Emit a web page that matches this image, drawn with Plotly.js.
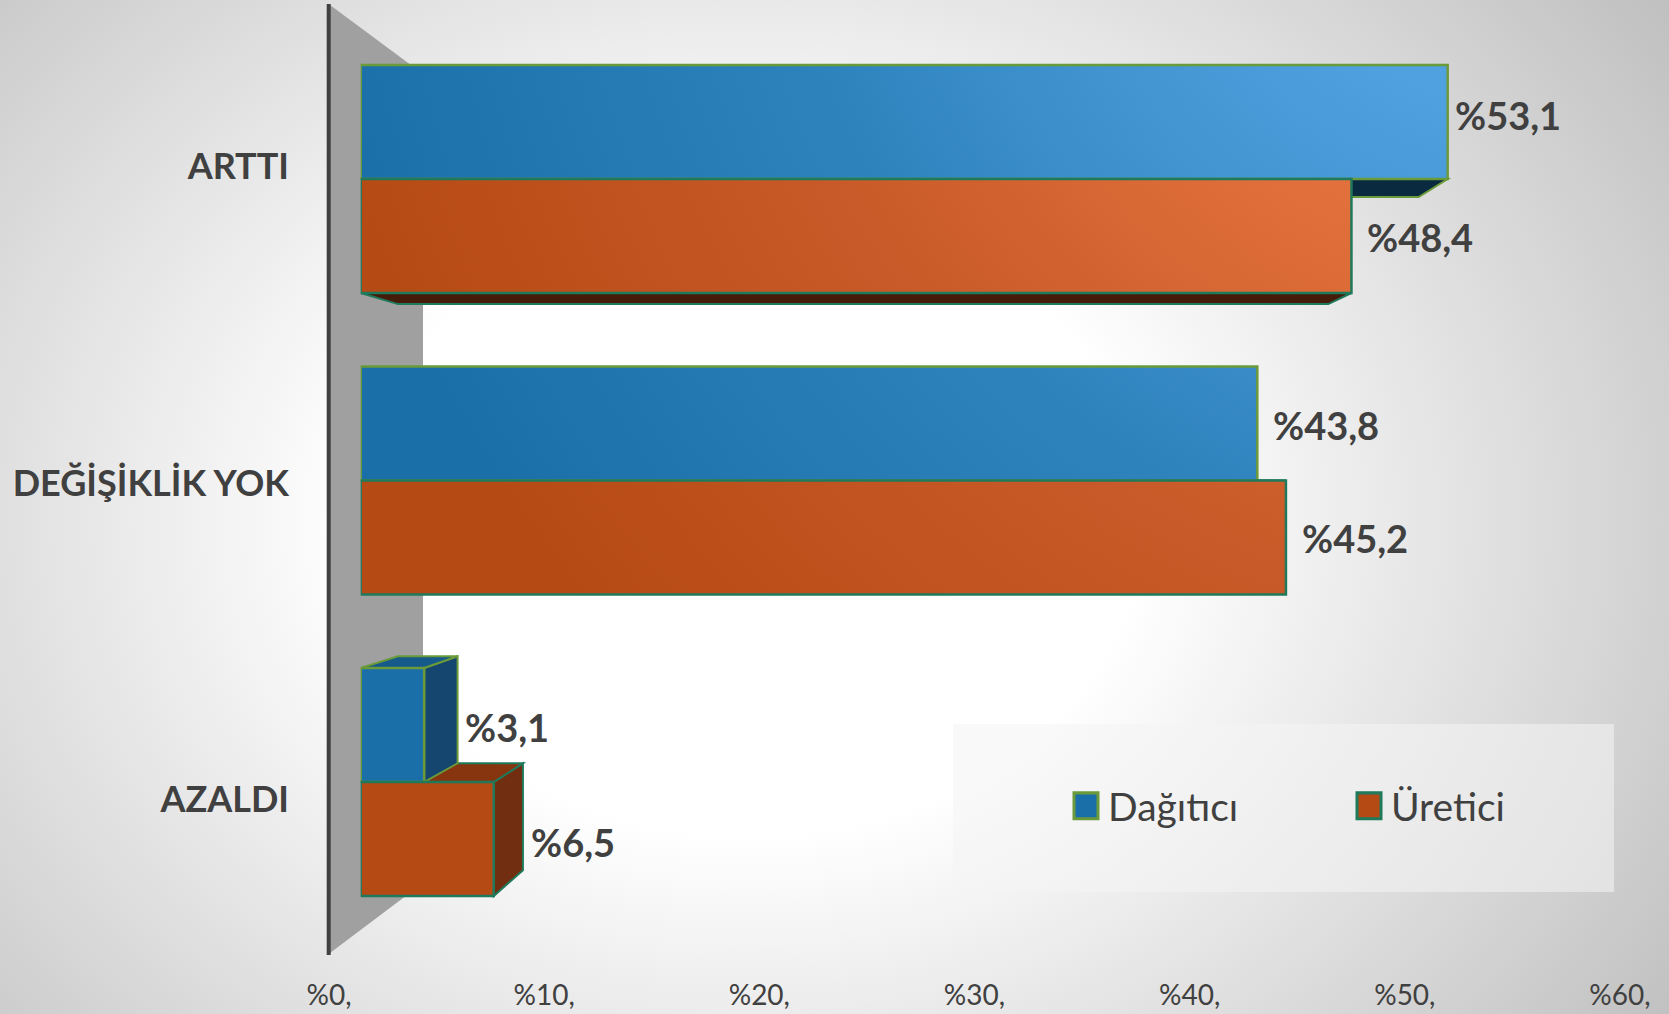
<!DOCTYPE html>
<html><head><meta charset="utf-8">
<script src="https://cdn.plot.ly/plotly-3.0.1.min.js"></script>
<style>
html,body{margin:0;padding:0;width:1669px;height:1014px;overflow:hidden;
background:radial-gradient(ellipse 1300px 1050px at 750px 520px,#ffffff 0%,#ffffff 30%,#b0b0b0 100%);}
#chart{width:1669px;height:1014px;}
</style></head><body><div id="chart"></div>
<script>
const categories = ['ARTTI','DEĞİŞİKLİK YOK','AZALDI'];
const dagitici = [53.1,43.8,3.1];
const uretici = [48.4,45.2,6.5];
const xTicks = [0,10,20,30,40,50,60];
const xTickText = ['%0,','%10,','%20,','%30,','%40,','%50,','%60,'];
const seriesNames = ['Dağıtıcı','Üretici'];
const blueLabelNudge = [[6,-7],[15,1],[40,2]];
const orangeLabelNudge = [[15,1],[15,0],[36,3]];

const W=1669,H=1014;
const FONT='Lato, Carlito, sans-serif', TXT='#404040';
const BLUE='#1b6fa8', ORANGE='#b64a14', BLUE_LINE='#6a9a3a', ORANGE_LINE='#1f7a5c';
// front plane of the bars
const x0=360.7, pxPerUnit=20.47, xMax=60, rowPx=301.5, firstRowPx=179;
const plotL=x0, plotR=x0+pxPerUnit*xMax;
const plotT=firstRowPx-rowPx/2, plotB=firstRowPx+rowPx*2.5;
// perspective of the depth faces
const vx=(972-x0)/pxPerUnit, vy=(475-firstRowPx)/rowPx, depth=0.939, half=114/rowPx;
const pr=(x,y)=>[vx+depth*(x-vx), vy+depth*(y-vy)];
const idx=categories.map((_,i)=>i);

function faces(vals,yLow,yHigh,colTop,colBottom,colSide,line){
  const out=[];
  const poly=(pts,fill)=>out.push({type:'path',xref:'x',yref:'y',layer:'below',
    path:'M'+pts.map(p=>p[0]+','+p[1]).join('L')+'Z',fillcolor:fill,line:{color:line,width:2}});
  vals.forEach((v,i)=>{
    const t=i+yLow,b=i+yHigh;
    if(v<vx){poly([[v,t],pr(v,t),pr(v,b),[v,b]],colSide);}
    if(t>vy){poly([[0,t],[v,t],pr(v,t),pr(0,t)],colTop);}
    if(b<vy){poly([[0,b],[v,b],pr(v,b),pr(0,b)],colBottom);}
  });
  return out;
}
const wall={type:'path',xref:'paper',yref:'paper',layer:'below',
  path:`M${330/W},${1-5/H}L${423/W},${1-74/H}L${423/W},${1-883/H}L${330/W},${1-953/H}Z`,
  fillcolor:'#a0a0a0',line:{width:0}};
const axisLine={type:'line',xref:'paper',yref:'paper',layer:'below',
  x0:328.7/W,x1:328.7/W,y0:1-4/H,y1:1-955/H,line:{color:'#404040',width:4}};
const legendBox={type:'rect',xref:'paper',yref:'paper',layer:'below',
  x0:953/W,x1:1614/W,y0:1-892/H,y1:1-724/H,fillcolor:'rgba(244,244,244,0.56)',line:{width:0}};

const shapes=[wall,axisLine,legendBox]
 .concat(faces(uretici,0,half,'#87350f','#451b0a','#722e10',ORANGE_LINE))
 .concat(faces(dagitici,-half,0,'#155a8a','#0a2a40','#15466f',BLUE_LINE));

const lab=(v)=>'%'+v.toFixed(1).replace('.',',');
const annotations=[];
[[dagitici,-half/2,blueLabelNudge],[uretici,half/2,orangeLabelNudge]].forEach(([vals,off,nudge])=>{
  vals.forEach((v,i)=>annotations.push({xref:'x',yref:'y',x:v,y:i+off,text:lab(v),showarrow:false,
    xanchor:'left',yanchor:'middle',xshift:nudge[i][0]-1,yshift:-nudge[i][1],
    font:{family:FONT,size:38,color:TXT,weight:700}}));
});

const traces=[
 {type:'bar',orientation:'h',name:seriesNames[0],y:idx,x:dagitici,xaxis:'x',yaxis:'y',
  marker:{color:BLUE,line:{color:BLUE_LINE,width:2.5}},hoverinfo:'x+name'},
 {type:'bar',orientation:'h',name:seriesNames[1],y:idx,x:uretici,xaxis:'x',yaxis:'y',
  marker:{color:ORANGE,line:{color:ORANGE_LINE,width:2.5}},hoverinfo:'x+name'},
 {type:'scatter',mode:'markers',x:categories.map(()=>0),y:categories,xaxis:'x2',yaxis:'y2',
  marker:{opacity:0},showlegend:false,hoverinfo:'skip'}
];
const layout={
 width:W,height:H,margin:{l:0,r:0,t:0,b:0},
 paper_bgcolor:'rgba(0,0,0,0)',plot_bgcolor:'rgba(0,0,0,0)',
 barmode:'group',bargap:1-2*half,bargroupgap:0,
 font:{family:FONT,color:TXT},
 xaxis:{domain:[plotL/W,plotR/W],range:[0,xMax],visible:false,fixedrange:true},
 yaxis:{domain:[1-plotB/H,1-plotT/H],range:[2.5,-0.5],visible:false,fixedrange:true,anchor:'x'},
 xaxis2:{domain:[329/W,1620/W],range:[0,xMax],anchor:'y2',tickmode:'array',tickvals:xTicks,ticktext:xTickText,
   showgrid:false,zeroline:false,showline:false,ticks:'',ticklabelstandoff:18,
   tickfont:{family:FONT,size:28,color:TXT},fixedrange:true},
 yaxis2:{domain:[1-958/H,1-8/H],type:'category',categoryorder:'array',categoryarray:categories,
   range:[2.5,-0.5],anchor:'x2',showgrid:false,zeroline:false,showline:false,
   ticks:'',ticklabelstandoff:39,tickfont:{family:FONT,size:36,color:TXT,weight:700},fixedrange:true},
 shapes,annotations,
 legend:{orientation:'h',x:1068/W,xanchor:'left',y:1-806/H,yanchor:'middle',bgcolor:'rgba(0,0,0,0)',
   font:{family:FONT,size:39,color:TXT},entrywidth:238,entrywidthmode:'pixels',traceorder:'normal'}
};
Plotly.newPlot('chart',traces,layout,{displayModeBar:false,responsive:false}).then(gd=>{
  const svg=gd.querySelector('svg.main-svg');
  const NS='http://www.w3.org/2000/svg';
  const defs=svg.querySelector('defs')||svg.insertBefore(document.createElementNS(NS,'defs'),svg.firstChild);
  const mk=(id,stops)=>{
    const g=document.createElementNS(NS,'radialGradient');
    g.setAttribute('id',id);g.setAttribute('gradientUnits','userSpaceOnUse');
    g.setAttribute('cx',1550-plotL);g.setAttribute('cy',-200-plotT);g.setAttribute('r',1400);
    stops.forEach(([o,c])=>{const s=document.createElementNS(NS,'stop');s.setAttribute('offset',o);s.setAttribute('stop-color',c);g.appendChild(s);});
    defs.appendChild(g);
  };
  mk('gBlue',[[0.22,'#4fa2df'],[0.55,'#2f83bd'],[0.9,BLUE]]);
  mk('gOrange',[[0.28,'#e6733f'],[0.58,'#c75a28'],[0.9,ORANGE]]);
  gd.querySelectorAll('.barlayer .trace').forEach((tr,i)=>{
    tr.querySelectorAll('.point path').forEach(p=>{p.style.fill='url(#'+(i===0?'gBlue':'gOrange')+')';});
  });
  gd.querySelectorAll('.legend .legendpoints path').forEach(p=>{
    p.setAttribute('transform','translate(18,0) scale(2,2.15)');
    p.style.strokeWidth='1.5px';
  });
});
</script></body></html>
